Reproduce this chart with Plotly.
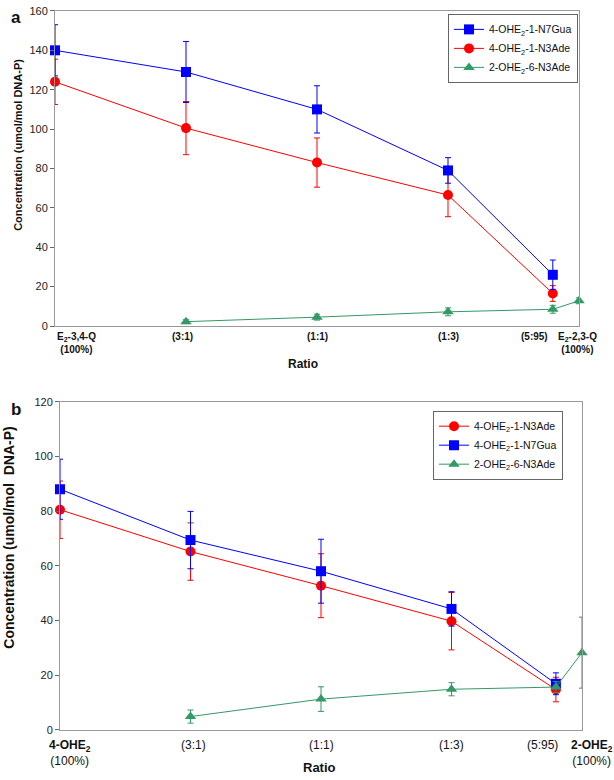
import plotly.graph_objects as go

W, H = 614, 780
FONT = "Liberation Sans, Arial, sans-serif"

# x = share of the second compound in the mixture (%)
pct = [0, 25, 50, 75, 95]
pct_green = [25, 50, 75, 95, 100]
tick_pos = [0, 25, 50, 75, 95, 100]

# panel a: E2-3,4-Q / E2-2,3-Q mixtures
a_n7gua = [140, 129, 110, 79, 26]
a_n7gua_err = [13, 15.5, 12, 6.5, 7.5]
a_n3ade = [124, 100.5, 83, 66.5, 16.5]
a_n3ade_err = [11.5, 13.5, 12.5, 11, 4]
a_2n3ade = [2.2, 4.5, 7.2, 8.5, 12.8]
a_2n3ade_err = [1, 1.5, 2, 2, 1.5]
a_ticks = ["E<sub>2</sub>-3,4-Q<br>(100%)", "(3:1)", "(1:1)", "(1:3)", "(5:95)",
           "E<sub>2</sub>-2,3-Q<br>(100%)"]

# panel b: 4-OHE2 / 2-OHE2 mixtures
b_n3ade = [80.5, 65.2, 52.7, 39.7, 14.7]
b_n3ade_err = [10.5, 10.5, 11.7, 10.5, 4.5]
b_n7gua = [88, 69.4, 58, 44.2, 16.8]
b_n7gua_err = [11, 10.5, 11.7, 6.3, 4]
b_2n3ade = [4.8, 11.2, 14.8, 15.6, 28.2]
b_2n3ade_err = [2.4, 4.5, 2.4, 2, 13]
b_ticks = ["<b>4-OHE<sub>2</sub></b><br>(100%)", "(3:1)", "(1:1)", "(1:3)", "(5:95)",
           "<b>2-OHE<sub>2</sub></b><br>(100%)"]

N7 = "4-OHE<sub>2</sub>-1-N7Gua"
N3 = "4-OHE<sub>2</sub>-1-N3Ade"
G3 = "2-OHE<sub>2</sub>-6-N3Ade"
BLUE, RED, GREEN = "#0000ff", "#ff0000", "#339966"


def px(x):
    return x / W


def py(y):
    return 1 - y / H


def series(x, y, err, name, color, symbol, xa, ya, legend, rank):
    return go.Scatter(
        x=x, y=y, name=name, mode="lines+markers", xaxis=xa, yaxis=ya,
        legend=legend, legendrank=rank, cliponaxis=False,
        line=dict(color=color, width=1),
        marker=dict(color=color, symbol=symbol, size=10),
        error_y=dict(type="data", array=err, color=color, thickness=1, width=3),
    )


fig = go.Figure()
fig.add_trace(series(pct_green, a_2n3ade, a_2n3ade_err, G3, GREEN, "triangle-up", "x", "y", "legend", 3))
fig.add_trace(series(pct, a_n3ade, a_n3ade_err, N3, RED, "circle", "x", "y", "legend", 2))
fig.add_trace(series(pct, a_n7gua, a_n7gua_err, N7, BLUE, "square", "x", "y", "legend", 1))
fig.add_trace(series(pct, b_n3ade, b_n3ade_err, N3, RED, "circle", "x2", "y2", "legend2", 1))
fig.add_trace(series(pct, b_n7gua, b_n7gua_err, N7, BLUE, "square", "x2", "y2", "legend2", 2))
fig.add_trace(series(pct_green, b_2n3ade, b_2n3ade_err, G3, GREEN, "triangle-up", "x2", "y2", "legend2", 3))

frame = dict(showline=True, mirror=True, linecolor="#999999", linewidth=1,
             showgrid=False, zeroline=False)
yax = dict(ticks="outside", ticklen=4, tickcolor="#666666",
           tickfont=dict(family=FONT, size=11, color="#222222"), **frame)
leg = dict(xanchor="right", yanchor="top", bgcolor="white", bordercolor="#666666",
           borderwidth=1, font=dict(family=FONT, size=10.5), tracegroupgap=0,
           itemwidth=30)

fig.update_layout(
    width=W, height=H, margin=dict(l=0, r=0, t=0, b=0),
    paper_bgcolor="white", plot_bgcolor="white", showlegend=True,
    font=dict(family=FONT, color="#111111"),
    xaxis=dict(domain=[px(55), px(579)], range=[0, 100], showticklabels=False,
               anchor="y", **frame),
    yaxis=dict(domain=[py(325), py(5)], range=[0, 160], dtick=20, anchor="x", **yax),
    xaxis2=dict(domain=[px(60), px(582)], range=[0, 100], showticklabels=False,
                anchor="y2", **frame),
    yaxis2=dict(domain=[py(735), py(402)], range=[0, 120], dtick=20, anchor="x2", **yax),
    legend=dict(x=px(578), y=py(8), **leg),
    legend2=dict(x=px(563), y=py(411), **leg),
)

# x tick labels placed as annotations so the crowded right end can be nudged
a_shift = [0, -4, 0, 0, -3, -2]
a_anchor = ["left", "center", "center", "center", "right", "center"]
for pos, txt, sh, anc in zip(tick_pos, a_ticks, a_shift, a_anchor):
    fig.add_annotation(x=pos, y=0, xref="x", yref="y domain", text="<b>" + txt + "</b>",
                       showarrow=False, xanchor=anc, yanchor="top", yshift=-3, xshift=sh,
                       align="center", font=dict(family=FONT, size=10, color="#111111"))

b_shift = [10, 3, 0, 0, 4, 10]
b_anchor = ["center", "center", "center", "center", "right", "center"]
for pos, txt, sh, anc in zip(tick_pos, b_ticks, b_shift, b_anchor):
    fig.add_annotation(x=pos, y=0, xref="x2", yref="y2 domain", text=txt,
                       showarrow=False, xanchor=anc, yanchor="top", yshift=-6, xshift=sh,
                       align="center", font=dict(family=FONT, size=12, color="#111111"))

texts = [
    dict(x=px(303), y=py(364), text="<b>Ratio</b>", font=dict(family=FONT, size=12)),
    dict(x=px(319), y=py(773), text="<b>Ratio</b>", font=dict(family=FONT, size=13)),
    dict(x=px(18), y=py(141), text="<b>Concentration (umol/mol DNA-P)</b>", textangle=-90,
         font=dict(family=FONT, size=11)),
    dict(x=px(9), y=py(540), text="<b>Concentration (umol/mol  DNA-P)</b>", textangle=-90,
         font=dict(family=FONT, size=14)),
    dict(x=px(16), y=py(12), text="<b>a</b>", font=dict(family=FONT, size=17)),
    dict(x=px(16), y=py(410), text="<b>b</b>", font=dict(family=FONT, size=17)),
]
for t in texts:
    fig.add_annotation(xref="paper", yref="paper", showarrow=False,
                       xanchor="center", yanchor="middle", **t)

fig.write_html("out.html", config={"displayModeBar": False},
               post_script="document.body.style.margin='0';document.body.style.overflow='hidden';")
